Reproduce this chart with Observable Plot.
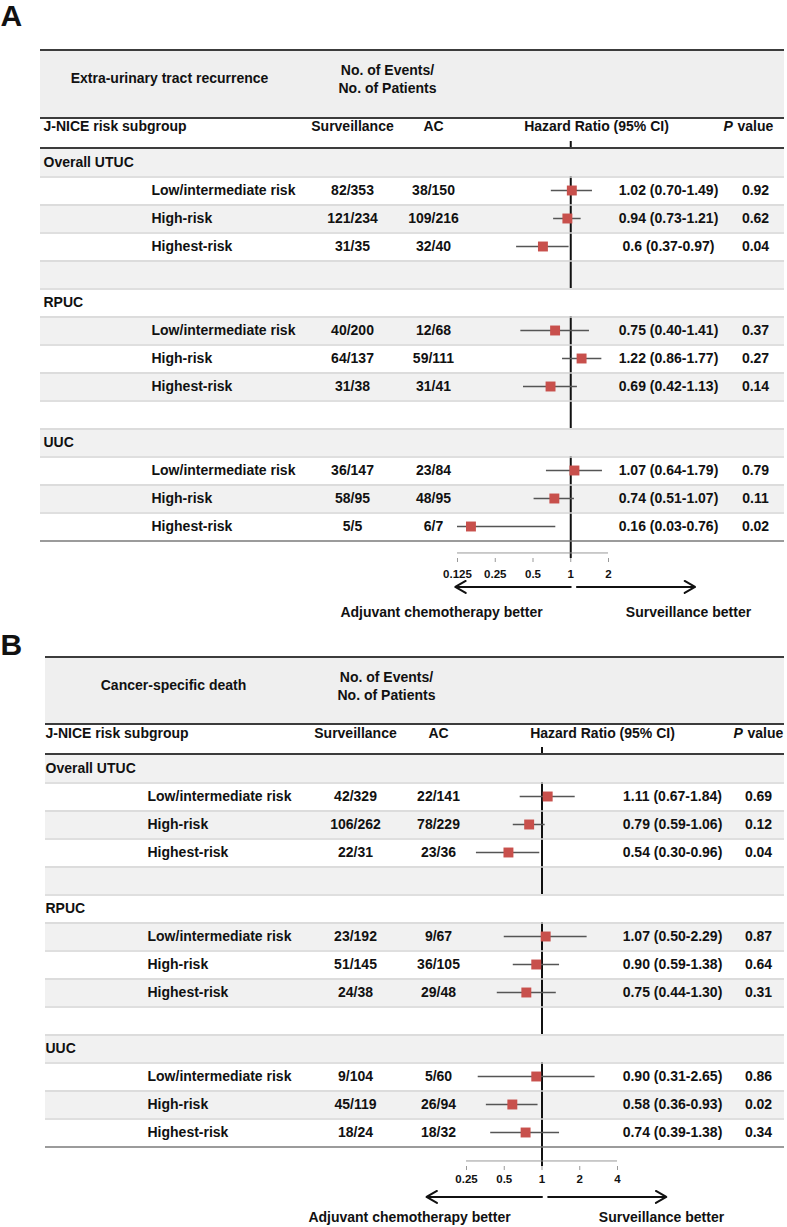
<!DOCTYPE html>
<html><head><meta charset="utf-8">
<script src="https://cdn.jsdelivr.net/npm/d3@7"></script>
<script src="https://cdn.jsdelivr.net/npm/@observablehq/plot@0.6"></script>
<style>
body{margin:0;background:#fff;}
#chart svg{display:block;}
</style></head><body><div id="chart"></div>
<script>
// ---------------- data ----------------
const groups = ["Overall UTUC", "RPUC", "UUC"];
const subgroups = ["Low/intermediate risk", "High-risk", "Highest-risk"];
const columnHeaders = ["J-NICE risk subgroup", "Surveillance", "AC", "Hazard Ratio (95% CI)", "value"];
const countsHeader = "No. of Events/\nNo. of Patients";
const arrowLabels = ["Adjuvant chemotherapy better", "Surveillance better"];

// Panel A
const aTitle = "Extra-urinary tract recurrence";
const aSurv = ["82/353", "121/234", "31/35", "40/200", "64/137", "31/38", "36/147", "58/95", "5/5"];
const aAC = ["38/150", "109/216", "32/40", "12/68", "59/111", "31/41", "23/84", "48/95", "6/7"];
const aHR = [1.02, 0.94, 0.6, 0.75, 1.22, 0.69, 1.07, 0.74, 0.16];
const aLo = [0.70, 0.73, 0.37, 0.40, 0.86, 0.42, 0.64, 0.51, 0.03];
const aHi = [1.49, 1.21, 0.97, 1.41, 1.77, 1.13, 1.79, 1.07, 0.76];
const aHRText = ["1.02 (0.70-1.49)", "0.94 (0.73-1.21)", "0.6 (0.37-0.97)", "0.75 (0.40-1.41)", "1.22 (0.86-1.77)", "0.69 (0.42-1.13)", "1.07 (0.64-1.79)", "0.74 (0.51-1.07)", "0.16 (0.03-0.76)"];
const aP = ["0.92", "0.62", "0.04", "0.37", "0.27", "0.14", "0.79", "0.11", "0.02"];
const aTicks = [0.125, 0.25, 0.5, 1, 2];

// Panel B
const bTitle = "Cancer-specific death";
const bSurv = ["42/329", "106/262", "22/31", "23/192", "51/145", "24/38", "9/104", "45/119", "18/24"];
const bAC = ["22/141", "78/229", "23/36", "9/67", "36/105", "29/48", "5/60", "26/94", "18/32"];
const bHR = [1.11, 0.79, 0.54, 1.07, 0.90, 0.75, 0.90, 0.58, 0.74];
const bLo = [0.67, 0.59, 0.30, 0.50, 0.59, 0.44, 0.31, 0.36, 0.39];
const bHi = [1.84, 1.06, 0.96, 2.29, 1.38, 1.30, 2.65, 0.93, 1.38];
const bHRText = ["1.11 (0.67-1.84)", "0.79 (0.59-1.06)", "0.54 (0.30-0.96)", "1.07 (0.50-2.29)", "0.90 (0.59-1.38)", "0.75 (0.44-1.30)", "0.90 (0.31-2.65)", "0.58 (0.36-0.93)", "0.74 (0.39-1.38)"];
const bP = ["0.69", "0.12", "0.04", "0.87", "0.64", "0.31", "0.86", "0.02", "0.34"];
const bTicks = [0.25, 0.5, 1, 2, 4];

// arrow extents (hazard-ratio units)
const arrowSpans = [[1.0, 0.12], [1.12, 9.8]];

// ---------------- drawing ----------------
const W = 787;
const FONT = "'Liberation Sans', Arial, Helvetica, sans-serif";

function buildRows(d) {
  const rows = [];
  let k = 0;
  groups.forEach((g, gi) => {
    rows.push({kind: "group", label: g});
    subgroups.forEach((s) => {
      rows.push({kind: "data", label: s, surv: d.surv[k], ac: d.ac[k], hr: d.hr[k], lo: d.lo[k], hi: d.hi[k], hrText: d.hrText[k], p: d.p[k]});
      k++;
    });
    if (gi < groups.length - 1) rows.push({kind: "blank"});
  });
  rows.forEach((r, i) => { r.i = i; r.id = "r" + i; });
  return rows;
}

function panel(d, L) {
  const rows = buildRows(d);
  const ids = rows.map(r => r.id);
  const [R0, R1] = L.rowsY;
  const bw = (R1 - R0) / rows.length;
  const ML = L.xRange[0], MR = W - L.xRange[1], MT = R0, MB = L.height - L.axisY;
  const tL = -(ML - L.tableX[0]), tR = -(MR - (W - L.tableX[1]));
  const first = [rows[0]], last = [rows[rows.length - 1]];
  const lastC = R1 - bw / 2, firstC = R0 + bw / 2;
  const at = (X, Y, o = {}) => ({frameAnchor: "top-left", dx: X - ML, dy: Y - MT, lineAnchor: "middle", ...o});
  const hline = (Y, o) => Plot.ruleY(first, {y: "id", dy: Y - firstC, insetLeft: tL, insetRight: tR, ...o});
  const col = (X, o) => ({frameAnchor: "left", dx: X - ML, y: "id", ...o});
  const dataRows = rows.filter(r => r.kind === "data");
  const stripeRows = rows.filter(r => r.i % 2 === 0 && r.kind !== "group");
  const groupGray = rows.filter(r => r.kind === "group" && r.i % 2 === 0);
  const groupWhite = rows.filter(r => r.kind === "group" && r.i % 2 === 1);
  const fullW = {insetLeft: tL, insetRight: tR, insetTop: 0, insetBottom: 0};
  const arrows = arrowSpans.map(([a, b]) => ({a, b}));

  return Plot.plot({
    width: W, height: L.height,
    marginLeft: ML, marginRight: MR, marginTop: MT, marginBottom: MB,
    x: {type: "log", base: 2, domain: [d.ticks[0], d.ticks[d.ticks.length - 1]], label: null},
    y: {type: "band", domain: ids, range: [R0, R1], padding: 0, axis: null, label: null},
    style: {fontFamily: FONT, fontWeight: "bold", fontSize: "14px", color: "#111", background: "#fff", overflow: "visible"},
    marks: [
      // header background
      Plot.cell(first, {y: "id", fill: "#efefef", insetTop: L.topY - R0, insetBottom: R0 + bw - L.headY, insetLeft: tL, insetRight: tR}),
      // row stripes
      Plot.cell(stripeRows, {y: "id", fill: "#f1f1f1", ...fullW}),
      // reference line at HR = 1
      Plot.ruleX([1], {stroke: "#111", strokeWidth: 2}),
      // group rows drawn over the reference line
      Plot.cell(groupGray, {y: "id", fill: "#f1f1f1", ...fullW}),
      Plot.cell(groupWhite, {y: "id", fill: "#ffffff", ...fullW}),
      // row separators
      Plot.ruleY(rows.slice(0, -1), {y: "id", dy: bw / 2, stroke: "#d4d4d4", strokeWidth: 1.5, insetLeft: tL, insetRight: tR}),
      // table rules
      hline(L.topY, {stroke: "#3c3c3c", strokeWidth: 2}),
      hline(L.headY, {stroke: "#3c3c3c", strokeWidth: 2}),
      Plot.ruleY(first, {y: "id", dy: -bw / 2, stroke: "#3c3c3c", strokeWidth: 2, insetLeft: tL, insetRight: tR}),
      Plot.ruleY(last, {y: "id", dy: bw / 2, stroke: "#7a7a7a", strokeWidth: 1.5, insetLeft: tL, insetRight: tR}),
      // confidence intervals and estimates
      Plot.ruleY(dataRows, {y: "id", x1: "lo", x2: "hi", stroke: "#555", strokeWidth: 1.5, clip: true}),
      Plot.dot(dataRows, {x: "hr", y: "id", symbol: "square", r: 5.6, fill: "#c8504c", stroke: null}),
      // axis
      Plot.ruleY(last, {y: "id", dy: L.axisY - lastC, x1: () => d.ticks[0], x2: () => d.ticks[d.ticks.length - 1], stroke: "#999", strokeWidth: 1}),
      Plot.axisX({ticks: d.ticks, tickFormat: v => String(v), tickSize: 4, tickPadding: L.tickPad, fontSize: 11.5, fontWeight: "bold", stroke: "#999", color: "#111", label: null}),
      // arrows
      Plot.arrow(arrows, {x1: "a", x2: "b", y1: () => last[0].id, y2: () => last[0].id, dy: L.arrowY - lastC, stroke: "#111", strokeWidth: 2, headLength: 9}),
      Plot.text([arrowLabels[0]], at(L.lab1X, L.labY, {textAnchor: "middle"})),
      Plot.text([arrowLabels[1]], at(L.lab2X, L.labY, {textAnchor: "middle"})),
      // panel letter and header texts
      Plot.text([L.letter], at(0, L.letterY, {textAnchor: "start", fontSize: 30})),
      Plot.text([d.title], at(L.titleX, L.titleY, {textAnchor: "middle"})),
      Plot.text([countsHeader], at(L.countsX, L.titleY, {textAnchor: "middle", lineHeight: 1.28})),
      Plot.text([columnHeaders[0]], at(L.groupX, L.colY, {textAnchor: "start"})),
      Plot.text([columnHeaders[1]], at(L.survX, L.colY, {textAnchor: "middle"})),
      Plot.text([columnHeaders[2]], at(L.acX, L.colY, {textAnchor: "middle"})),
      Plot.text([columnHeaders[3]], at(L.hrHeadX, L.colY, {textAnchor: "middle"})),
      Plot.text(["P"], at(L.pHeadX, L.colY, {textAnchor: "start", fontStyle: "italic"})),
      Plot.text([columnHeaders[4]], at(L.pHeadX + 14, L.colY, {textAnchor: "start"})),
      // row texts
      Plot.text(rows.filter(r => r.kind === "group"), col(L.groupX, {text: "label", textAnchor: "start"})),
      Plot.text(dataRows, col(L.subX, {text: "label", textAnchor: "start"})),
      Plot.text(dataRows, col(L.survX, {text: "surv", textAnchor: "middle"})),
      Plot.text(dataRows, col(L.acX, {text: "ac", textAnchor: "middle"})),
      Plot.text(dataRows, col(L.hrX, {text: "hrText", textAnchor: "middle"})),
      Plot.text(dataRows, col(L.pX, {text: "p", textAnchor: "middle"}))
    ]
  });
}

const A = {title: aTitle, surv: aSurv, ac: aAC, hr: aHR, lo: aLo, hi: aHi, hrText: aHRText, p: aP, ticks: aTicks};
const B = {title: bTitle, surv: bSurv, ac: bAC, hr: bHR, lo: bLo, hi: bHi, hrText: bHRText, p: bP, ticks: bTicks};

const layoutA = {letter: "A", height: 620, letterY: 16, topY: 43, headY: 111, rowsY: [141, 546], axisY: 558, tickPad: 7, arrowY: 592, labY: 612,
  xRange: [457, 608], tableX: [40, 784], titleX: 169, titleY: 78, countsX: 387, colY: 126,
  groupX: 43, subX: 151, survX: 352, acX: 433, hrHeadX: 596, pHeadX: 723, hrX: 668, pX: 755, lab1X: 441, lab2X: 688};
const layoutB = {letter: "B", height: 607, letterY: 25, topY: 30, headY: 97, rowsY: [127, 532], axisY: 546, tickPad: 4, arrowY: 582, labY: 597,
  xRange: [466, 617], tableX: [45, 784], titleX: 173, titleY: 65, countsX: 386, colY: 113,
  groupX: 45, subX: 147, survX: 355, acX: 438, hrHeadX: 602, pHeadX: 733, hrX: 672, pX: 758, lab1X: 409, lab2X: 661};

const root = document.getElementById("chart");
root.appendChild(panel(A, layoutA));
root.appendChild(panel(B, layoutB));
</script>
</body></html>
